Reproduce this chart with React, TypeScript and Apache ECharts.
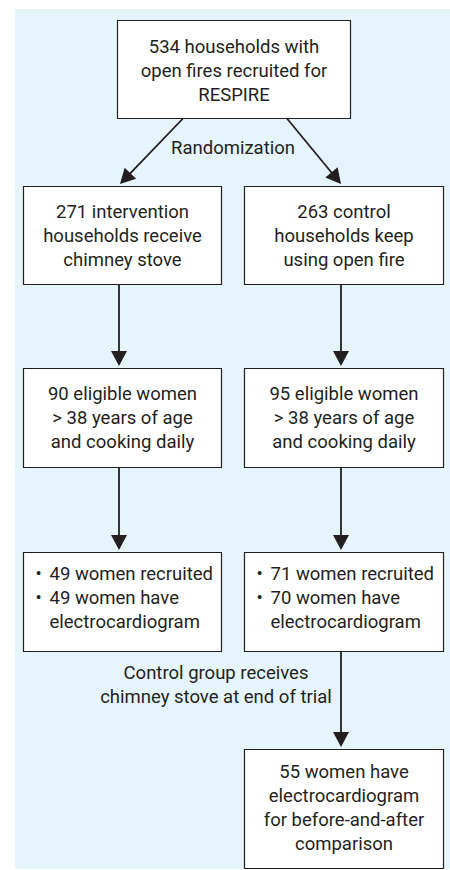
import React, { useEffect, useRef } from "react";
import * as echarts from "echarts";

// ---- Content (texts of the flow chart) ----
const boxLines: string[][] = [
  ["534 households with", "open fires recruited for", "RESPIRE"],
  ["271 intervention", "households receive", "chimney stove"],
  ["263 control", "households keep", "using open fire"],
  ["90 eligible women", "> 38 years of age", "and cooking daily"],
  ["95 eligible women", "> 38 years of age", "and cooking daily"],
  ["• 49 women recruited", "• 49 women have", "electrocardiogram"],
  ["• 71 women recruited", "• 70 women have", "electrocardiogram"],
  ["55 women have", "electrocardiogram", "for before-and-after", "comparison"],
];
const boxIsList: boolean[] = [false, false, false, false, false, true, true, false];
const annotationLines: string[][] = [
  ["Randomization"],
  ["Control group receives", "chimney stove at end of trial"],
];
// links between boxes (from index -> to index)
const links: number[][] = [
  [0, 1],
  [0, 2],
  [1, 3],
  [2, 4],
  [3, 5],
  [4, 6],
  [6, 7],
];

// ---- Layout (positions in a 450 x 870 frame) ----
const boxLayout: number[][] = [
  [117.5, 20.5, 350.5, 118.5],
  [23.5, 186.5, 221.5, 284.5],
  [244.5, 186.5, 443.5, 284.5],
  [23.5, 368.5, 221.5, 467.5],
  [244.5, 368.5, 443.5, 467.5],
  [23.5, 552.5, 221.5, 651.5],
  [244.5, 552.5, 443.5, 651.5],
  [244.5, 749.5, 443.5, 868.5],
];
const boxTextOffset: number[] = [1, 0, 0, 0, 0, -4, -4, -1];
// arrow start and tip for each link
const linkLayout: number[][] = [
  [183, 118.5, 120, 184],
  [287, 118.5, 341, 184],
  [119, 284.5, 119, 366],
  [341, 284.5, 341, 366],
  [119, 467.5, 119, 550],
  [341, 467.5, 341, 550],
  [341, 651.5, 341, 747],
];
const annotationLayout: number[][] = [
  [233, 148],
  [216, 673],
];

const FONT = "Roboto, 'Liberation Sans', Arial, sans-serif";
const FONT_SIZE = 18.5;
const LINE_H = 24;
const INK = "#231F20";

export default function App() {
  const ref = useRef<HTMLDivElement>(null);
  useEffect(() => {
    document.body.style.margin = "0";
    if (!ref.current) return;
    const chart = echarts.init(ref.current, undefined, { renderer: "svg" });

    const boxData = boxLines.map((_, i) => [...boxLayout[i], i]);
    const linkData = links.map((l, i) => [...linkLayout[i], l[0], l[1]]);
    const annData = annotationLines.map((_, i) => [...annotationLayout[i], i]);

    const option: any = {
      animation: false,
      grid: { left: 0, right: 0, top: 0, bottom: 0 },
      xAxis: { type: "value", min: 0, max: 450, show: false },
      yAxis: { type: "value", min: 0, max: 870, inverse: true, show: false },
      graphic: [
        {
          type: "rect",
          z: 0,
          shape: { x: 15, y: 9, width: 435, height: 860 },
          style: { fill: "#E6F4FC" },
          silent: true,
        },
      ],
      series: [
        {
          type: "custom",
          name: "arrows",
          coordinateSystem: "cartesian2d",
          data: linkData,
          silent: true,
          renderItem: (params: any, api: any) => {
            const p1 = api.coord([api.value(0), api.value(1)]);
            const p2 = api.coord([api.value(2), api.value(3)]);
            const dx = p2[0] - p1[0];
            const dy = p2[1] - p1[1];
            const len = Math.sqrt(dx * dx + dy * dy);
            const ux = dx / len;
            const uy = dy / len;
            const headLen = 15;
            const halfW = 8;
            const bx = p2[0] - ux * headLen;
            const by = p2[1] - uy * headLen;
            return {
              type: "group",
              children: [
                {
                  type: "line",
                  shape: { x1: p1[0], y1: p1[1], x2: bx + ux * 2, y2: by + uy * 2 },
                  style: { stroke: INK, lineWidth: 1.8 },
                },
                {
                  type: "polygon",
                  shape: {
                    points: [
                      [p2[0], p2[1]],
                      [bx - uy * halfW, by + ux * halfW],
                      [bx + uy * halfW, by - ux * halfW],
                    ],
                  },
                  style: { fill: INK },
                },
              ],
            };
          },
        },
        {
          type: "custom",
          name: "boxes",
          coordinateSystem: "cartesian2d",
          data: boxData,
          silent: true,
          renderItem: (params: any, api: any) => {
            const idx = api.value(4);
            const a = api.coord([api.value(0), api.value(1)]);
            const b = api.coord([api.value(2), api.value(3)]);
            const lines = boxLines[idx];
            const isList = boxIsList[idx];
            const cx = (a[0] + b[0]) / 2;
            const cy = (a[1] + b[1]) / 2 + boxTextOffset[idx];
            const children: any[] = [
              {
                type: "rect",
                shape: { x: a[0], y: a[1], width: b[0] - a[0], height: b[1] - a[1] },
                style: { fill: "#FFFFFF", stroke: INK, lineWidth: 1.2 },
              },
            ];
            const n = lines.length;
            lines.forEach((ln, k) => {
              const y = cy + (k - (n - 1) / 2) * LINE_H;
              if (isList) {
                const bulletX = a[0] + 15;
                const textX = a[0] + 26;
                let txt = ln;
                if (ln.startsWith("• ")) {
                  txt = ln.slice(2);
                  children.push({
                    type: "text",
                    style: {
                      text: "•",
                      x: bulletX,
                      y,
                      fill: INK,
                      fontFamily: FONT,
                      fontSize: FONT_SIZE,
                      align: "center",
                      verticalAlign: "middle",
                    },
                  });
                }
                children.push({
                  type: "text",
                  style: {
                    text: txt,
                    x: textX,
                    y,
                    fill: INK,
                    fontFamily: FONT,
                    fontSize: FONT_SIZE,
                    align: "left",
                    verticalAlign: "middle",
                  },
                });
              } else {
                children.push({
                  type: "text",
                  style: {
                    text: ln,
                    x: cx,
                    y,
                    fill: INK,
                    fontFamily: FONT,
                    fontSize: FONT_SIZE,
                    align: "center",
                    verticalAlign: "middle",
                  },
                });
              }
            });
            return { type: "group", children };
          },
        },
        {
          type: "custom",
          name: "annotations",
          coordinateSystem: "cartesian2d",
          data: annData,
          silent: true,
          renderItem: (params: any, api: any) => {
            const idx = api.value(2);
            const p = api.coord([api.value(0), api.value(1)]);
            const lines = annotationLines[idx];
            return {
              type: "group",
              children: lines.map((ln, k) => ({
                type: "text",
                style: {
                  text: ln,
                  x: p[0],
                  y: p[1] + k * LINE_H,
                  fill: INK,
                  fontFamily: FONT,
                  fontSize: FONT_SIZE,
                  align: "center",
                  verticalAlign: "middle",
                },
              })),
            };
          },
        },
      ],
    };
    chart.setOption(option);
    return () => chart.dispose();
  }, []);
  return <div ref={ref} style={{ width: 450, height: 870 }} />;
}
